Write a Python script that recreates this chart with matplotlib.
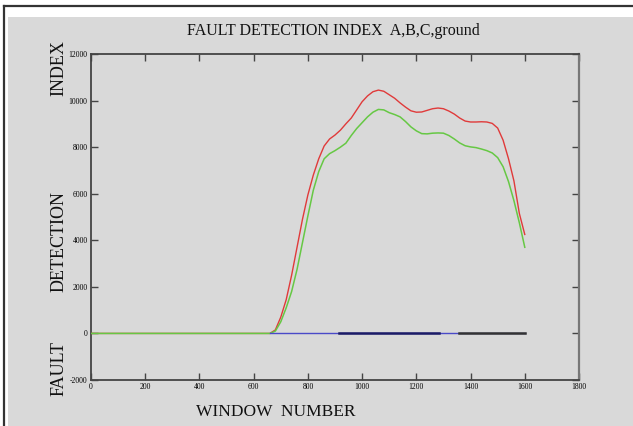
import matplotlib
matplotlib.use("Agg")
import matplotlib.pyplot as plt
from matplotlib.patches import Rectangle
from matplotlib.lines import Line2D

# ---- data ----
window_red = [0, 660, 680, 700, 720, 740, 760, 780, 800, 820, 840, 860, 880, 900, 920, 940,
              960, 980, 1000, 1020, 1040, 1060, 1080, 1100, 1120, 1140, 1160, 1180, 1200,
              1220, 1240, 1260, 1280, 1300, 1320, 1340, 1360, 1380, 1400, 1420, 1440, 1460,
              1480, 1500, 1520, 1540, 1560, 1580, 1600]
index_red = [0, 0, 150, 700, 1450, 2500, 3700, 4900, 5950, 6800, 7500, 8050, 8350, 8520,
             8730, 9000, 9250, 9600, 9950, 10200, 10380, 10450, 10400, 10250, 10100, 9900,
             9720, 9560, 9500, 9510, 9580, 9650, 9680, 9650, 9550, 9420, 9250, 9120, 9080,
             9080, 9090, 9080, 9020, 8820, 8300, 7500, 6550, 5150, 4250]

window_green = window_red
index_green = [0, 0, 100, 500, 1100, 1800, 2750, 3900, 5050, 6150, 6950, 7500, 7720, 7850,
               8000, 8170, 8500, 8800, 9050, 9300, 9500, 9620, 9600, 9480, 9400, 9300, 9100,
               8870, 8700, 8580, 8570, 8600, 8610, 8600, 8500, 8350, 8180, 8060, 8010, 7980,
               7920, 7850, 7750, 7550, 7160, 6520, 5700, 4750, 3700]

blue_x = [660, 1600]
blue_y = [0, 0]
navy_x = [915, 1283]
navy_y = [0, 0]
black_x = [1357, 1600]
black_y = [0, 0]

xticks = [0, 200, 400, 600, 800, 1000, 1200, 1400, 1600, 1800]
yticks = [-2000, 0, 2000, 4000, 6000, 8000, 10000, 12000]

title = "FAULT DETECTION INDEX  A,B,C,ground"
xlabel = "WINDOW  NUMBER"
ylabel_words = ["FAULT", "DETECTION", "INDEX"]

# ---- figure ----
BG = "#d9d9d9"
serif = ["Liberation Serif", "DejaVu Serif"]
fig = plt.figure(figsize=(6.33, 4.26), dpi=100, facecolor=BG)

# white frame with thin dark line at top/left
fig.patches.append(Rectangle((0, 1 - 17 / 426), 1, 17 / 426, transform=fig.transFigure,
                             facecolor="white", edgecolor="none", zorder=0))
fig.patches.append(Rectangle((0, 0), 8 / 633, 1, transform=fig.transFigure,
                             facecolor="white", edgecolor="none", zorder=0))
fig.lines.append(Line2D([3.5 / 633, 1], [1 - 5.5 / 426, 1 - 5.5 / 426], transform=fig.transFigure,
                        color="#333333", lw=1.6))
fig.lines.append(Line2D([3.5 / 633, 3.5 / 633], [0, 1 - 5.5 / 426], transform=fig.transFigure,
                        color="#333333", lw=1.6))

ax = fig.add_axes([91 / 633, 1 - 380 / 426, (579 - 91) / 633, (380 - 54) / 426])
ax.set_facecolor(BG)

ax.plot(window_red, index_red, color="#e03a3a", lw=1.0, zorder=3)
ax.plot(window_green, index_green, color="#66c844", lw=1.1, zorder=4)
ax.plot(blue_x, blue_y, color="#4a4ac8", lw=1.0, zorder=5)
ax.plot(navy_x, navy_y, color="#1c1c66", lw=1.8, zorder=6)
ax.plot(black_x, black_y, color="#333333", lw=1.8, zorder=6)

ax.set_xlim(0, 1800)
ax.set_ylim(-2000, 12000)
ax.set_xticks(xticks)
ax.set_yticks(yticks)
ax.set_xticklabels([str(v) for v in xticks], family=serif, fontsize=5.5)
ax.set_yticklabels([str(v) for v in yticks], family=serif, fontsize=5.5)
ax.tick_params(direction="in", length=5, width=1.0, color="#444444", pad=2.5,
               top=True, right=True)
for s in ax.spines.values():
    s.set_color("#444444")
    s.set_linewidth(1.3)
ax.spines["right"].set_color("#777777")
ax.spines["right"].set_linewidth(1.6)

fig.text(333 / 633, 1 - 31 / 426, title, family=serif, fontsize=11.5,
         ha="center", va="center", color="#111111")
fig.text(276 / 633, 1 - 412 / 426, xlabel, family=serif, fontsize=12.5,
         ha="center", va="center", color="#111111")

ycenters = [368, 242, 68]
for w, yc in zip(ylabel_words, ycenters):
    fig.text(59 / 633, 1 - yc / 426, w, family=serif,
             fontsize=13, rotation=90, ha="center", va="center", color="#111111")

fig.savefig("out.png", dpi=100, facecolor=BG)
